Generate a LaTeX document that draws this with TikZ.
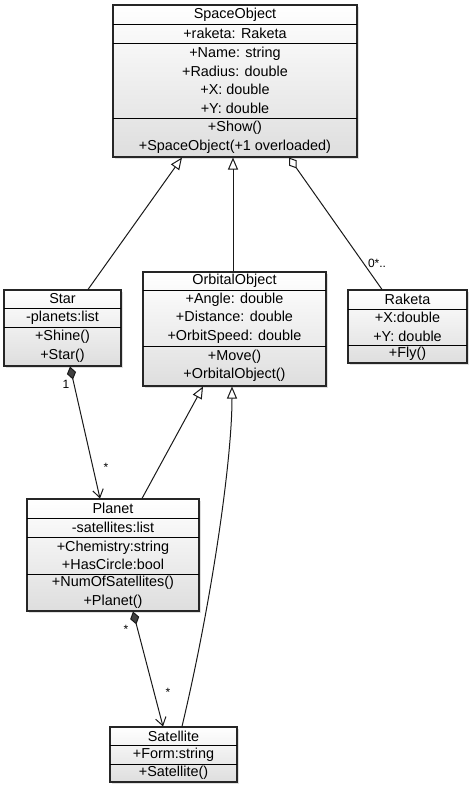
\documentclass[tikz,border=0pt]{standalone}
\usepackage{fontspec}
\setmainfont{Liberation Sans}
\usetikzlibrary{arrows.meta,fit,shadows}

\begin{document}
\begin{tikzpicture}[x=0.75pt,y=0.75pt,yscale=-1,
  classbox/.style={draw=black!85, line width=0.8pt, inner sep=0pt, top color=white, bottom color=black!13,
    drop shadow={shadow xshift=1.5pt, shadow yshift=-1.5pt, opacity=0.25}},
  member/.style={font=\fontsize{10.8}{13.9}\selectfont, align=center, inner sep=0pt},
  card/.style={font=\fontsize{9}{10}\selectfont, inner sep=0pt},
  link/.style={draw=black!90, line width=0.75pt},
  inherits/.style={link, -{Triangle[open, length=9pt, width=7.5pt]}}]
\useasboundingbox (0,0) rectangle (471,788);

%Class: SpaceObject
\node [classbox, fit={(113,5) (357,157)}] (so) {};
\draw (113,24) -- (357,24) (113,43) -- (357,43) (113,118) -- (357,118) ;
%Class: Star
\node [classbox, fit={(4,290) (121,366)}] (star) {};
\draw (4,308) -- (121,308) (4,327) -- (121,327) ;
%Class: OrbitalObject
\node [classbox, fit={(143,272) (326,386)}] (orb) {};
\draw (143,290) -- (326,290) (143,346) -- (326,346) ;
%Class: Raketa
\node [classbox, fit={(348,290) (467,363)}] (rak) {};
\draw (348,309) -- (467,309) (348,345) -- (467,345) ;
%Class: Planet
\node [classbox, fit={(27,499) (199,611)}] (pla) {};
\draw (27,518) -- (199,518) (27,537) -- (199,537) (27,574) -- (199,574) ;
%Class: Satellite
\node [classbox, fit={(110,727) (237,782)}] (sat) {};
\draw (110,745) -- (237,745) (110,764) -- (237,764) ;

% Text Node
\draw (235,14.5) node [member] (so-name) {SpaceObject};
\draw (235,33.5) node [member] (so-ref) {+raketa: Raketa};
\draw (235,80.5) node [member] (so-attr) {+Name: string\\+Radius: double\\+X: double\\+Y: double};
\draw (235,137.5) node [member] (so-ops) {+Show()\\+SpaceObject(+1 overloaded)};
\draw (62.5,299) node [member] (star-name) {Star};
\draw (62.5,317.5) node [member] (star-attr) {-planets:list};
\draw (62.5,346.5) node [member] (star-ops) {+Shine()\\+Star()};
\draw (234.5,281) node [member] (orb-name) {OrbitalObject};
\draw (234.5,318) node [member] (orb-attr) {+Angle: double\\+Distance: double\\+OrbitSpeed: double};
\draw (234.5,366) node [member] (orb-ops) {+Move()\\+OrbitalObject()};
\draw (407.5,299.5) node [member] (rak-name) {Raketa};
\draw (407.5,327) node [member] (rak-attr) {+X:double\\+Y: double};
\draw (407.5,354) node [member] (rak-ops) {+Fly()};
\draw (113,508.5) node [member] (pla-name) {Planet};
\draw (113,527.5) node [member] (pla-ref) {-satellites:list};
\draw (113,555.5) node [member] (pla-attr) {+Chemistry:string\\+HasCircle:bool};
\draw (113,592.5) node [member] (pla-ops) {+NumOfSatellites()\\+Planet()};
\draw (173.5,736) node [member] (sat-name) {Satellite};
\draw (173.5,754.5) node [member] (sat-attr) {+Form:string};
\draw (173.5,773) node [member] (sat-ops) {+Satellite()};

%Generalisation
\draw [inherits] (star.north -| 88,0) -- (so.south -| 182,0) ;
\draw [inherits] (orb.north -| 233,0) -- (so.south -| 233,0) ;
\draw [inherits] (pla.north -| 142,0) -- (orb.south -| 203,0) ;
\draw [inherits] (sat.north -| 182,0) .. controls (212,600) and (232,460) .. (orb.south -| 232,0) ;
%Aggregation
\draw [link, -{Diamond[open, length=10pt, width=7pt]}] (rak.north -| 382,0) -- (so.south -| 289,0) ;
%Composition
\draw [link, {Diamond[fill=black!75, length=10pt, width=7pt]}-{Straight Barb[length=6pt, width=8pt]}] (star.south -| 70,0) -- (pla.north -| 100,0) ;
\draw [link, {Diamond[fill=black!75, length=10pt, width=7pt]}-{Straight Barb[length=6pt, width=8pt]}] (pla.south -| 133,0) -- (sat.north -| 163,0) ;

% Multiplicities
\draw (377,263) node [card] (rak-mult) {0*..};
\draw (66,384) node [card] (star-mult) {1};
\draw (106,467) node [card] (pla-mult) {*};
\draw (126,629) node [card] (pla-out) {*};
\draw (168,692) node [card] (sat-mult) {*};
\end{tikzpicture}
\end{document}
